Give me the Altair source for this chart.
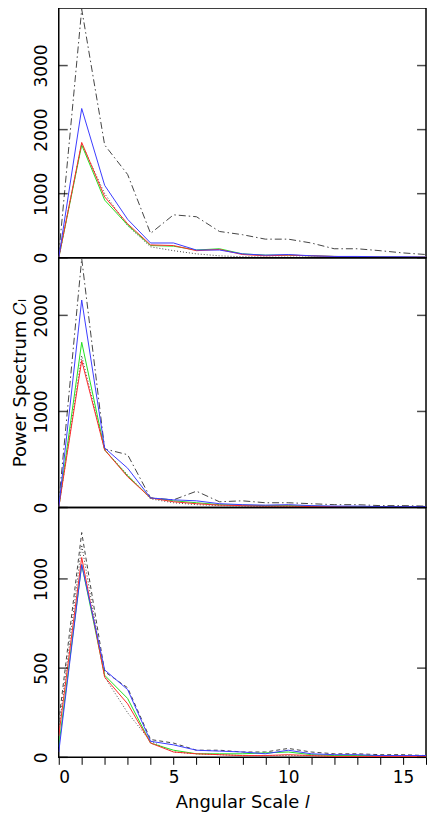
import altair as alt
import pandas as pd

L = list(range(17))

# Panel 1
dashdot1 = [50, 3880, 1760, 1300, 380, 670, 640, 410, 360, 290, 290, 230, 140, 140, 110, 75, 50]
dotted1 = [0, 1780, 1000, 500, 170, 110, 60, 30, 15, 10, 10, 10, 5, 5, 5, 5, 5]
blue1 = [0, 2330, 1130, 600, 230, 230, 120, 120, 60, 40, 50, 30, 20, 20, 15, 15, 10]
red1 = [0, 1800, 950, 530, 200, 190, 110, 130, 50, 30, 40, 30, 20, 15, 10, 10, 10]
green1 = [0, 1760, 900, 510, 190, 180, 120, 140, 60, 40, 40, 30, 20, 15, 15, 10, 10]

# Panel 2
dashdot2 = [50, 2590, 610, 550, 100, 80, 170, 60, 70, 50, 50, 40, 30, 30, 20, 20, 15]
dotted2 = [0, 1580, 600, 340, 90, 50, 30, 20, 15, 10, 10, 10, 5, 5, 5, 5, 5]
blue2 = [0, 2160, 620, 410, 100, 80, 70, 40, 30, 25, 30, 20, 15, 15, 10, 10, 10]
green2 = [0, 1720, 600, 330, 100, 70, 50, 30, 25, 20, 20, 15, 10, 10, 10, 5, 5]
red2 = [0, 1530, 600, 320, 100, 60, 40, 25, 20, 15, 15, 10, 10, 5, 5, 5, 5]

# Panel 3
dashed3 = [200, 1260, 480, 390, 100, 80, 40, 40, 30, 30, 50, 30, 20, 20, 15, 15, 10]
dotted3 = [150, 1190, 450, 250, 90, 30, 20, 15, 10, 10, 10, 10, 5, 5, 5, 5, 5]
red3 = [120, 1120, 450, 300, 80, 30, 20, 15, 10, 10, 15, 10, 5, 5, 5, 5, 5]
green3 = [60, 1080, 460, 330, 80, 40, 20, 20, 20, 25, 30, 15, 10, 10, 10, 5, 5]
blue3 = [30, 1080, 490, 380, 90, 70, 40, 35, 30, 20, 40, 20, 15, 15, 10, 10, 10]

y_max = [3900, 2600, 1400]
y_ticks = [[0, 1000, 2000, 3000], [0, 1000, 2000], [0, 500, 1000]]
x_ticks = list(range(17))

W, H = 369, 251
FONT = "DejaVu Sans"

BLUE = "#3a3aff"
RED = "#ff2a2a"
GREEN = "#22e022"
GREY = "#444444"


def line(vals, color, dash, xs, ys):
    df = pd.DataFrame({"l": L, "c": vals})
    kw = dict(color=color, strokeWidth=1, clip=True)
    if dash:
        kw["strokeDash"] = dash
    return alt.Chart(df).mark_line(**kw).encode(x=xs, y=ys)


def panel(idx, series, bottom=False, ytitle=None):
    xs = alt.X(
        "l:Q",
        scale=alt.Scale(domain=[0, 16], nice=False, zero=False),
        axis=alt.Axis(
            values=x_ticks,
            labelExpr="datum.value % 5 == 0 ? datum.label : ''",
            tickSize=7,
            tickColor="black",
            domain=False,
            grid=False,
            labelFontSize=17,
            labelPadding=5,
            labelFont=FONT,
            labelColor="black",
            title="Angular Scale  𝑙",
            titleFontSize=18,
            titleFont=FONT,
            titleFontWeight="normal",
            titlePadding=8,
            titleColor="black",
        ) if bottom else None,
    )
    yaxis = dict(
        values=y_ticks[idx],
        format="d",
        ticks=False,
        domain=False,
        grid=False,
        labelAngle=270,
        labelAlign="center",
        labelBaseline="bottom",
        labelPadding=8,
        labelFontSize=17,
        labelFont=FONT,
        labelColor="black",
        labelOverlap=False,
        labelFlush=False,
    )
    if ytitle:
        yaxis.update(
            title=ytitle,
            titleFontSize=18,
            titleFont=FONT,
            titleFontWeight="normal",
            titlePadding=3,
            titleColor="black",
        )
    else:
        yaxis["title"] = None
    ys = alt.Y(
        "c:Q",
        scale=alt.Scale(domain=[0, y_max[idx]], nice=False),
        axis=alt.Axis(**yaxis),
    )
    layers = [line(v, c, d, xs, ys) for (v, c, d) in series]

    tdf = pd.DataFrame({"c": y_ticks[idx]})
    ysc = alt.Y("c:Q", scale=alt.Scale(domain=[0, y_max[idx]], nice=False))
    lt = alt.Chart(tdf).mark_tick(orient="horizontal", color="black", size=9, thickness=1.5).encode(
        x=alt.value(4.5), y=ysc
    )
    rt = alt.Chart(tdf).mark_tick(orient="horizontal", color="black", size=9, thickness=1.5).encode(
        x=alt.value(W - 4.5), y=ysc
    )
    return alt.layer(*layers, lt, rt).properties(width=W, height=H)


p1 = panel(0, [
    (dotted1, GREY, [1, 2]),
    (dashdot1, GREY, [7, 3, 1.5, 3]),
    (green1, GREEN, None),
    (red1, RED, None),
    (blue1, BLUE, None),
])
p2 = panel(1, [
    (dotted2, GREY, [1, 2]),
    (dashdot2, GREY, [7, 3, 1.5, 3]),
    (green2, GREEN, None),
    (red2, RED, None),
    (blue2, BLUE, None),
], ytitle="Power Spectrum   𝐶ₗ")
p3 = panel(2, [
    (dotted3, GREY, [1, 2]),
    (dashed3, GREY, [4, 3]),
    (green3, GREEN, None),
    (red3, RED, None),
    (blue3, BLUE, None),
], bottom=True)

chart = alt.vconcat(p1, p2, p3, spacing=0, bounds="flush").properties(
    padding={"left": 3, "top": -3, "right": 0, "bottom": 0}
).configure_view(stroke="black", strokeWidth=1.5)

chart.save("out.html", embed_options={"renderer": "svg", "actions": False})
